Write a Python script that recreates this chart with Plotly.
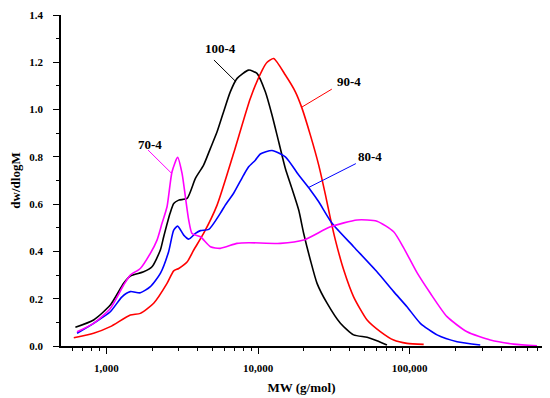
import plotly.graph_objects as go

# ---- data (MW in g/mol, dw/dlogM) ----
mw_100 = [625, 824, 1062, 1300, 1439, 1762, 2000, 2270, 2388, 2630, 2780, 2999, 3404, 3864,
          4375, 4853, 5370, 5929, 6561, 7278, 8670, 9840, 11170, 12360, 13680, 15140, 16750,
          18540, 20000, 22130, 24490, 28510, 34910, 42660, 52360, 60810, 70790]
dw_100 = [0.079, 0.110, 0.173, 0.265, 0.296, 0.314, 0.335, 0.406, 0.462, 0.561, 0.603, 0.617,
          0.624, 0.709, 0.765, 0.836, 0.906, 0.991, 1.075, 1.132, 1.167, 1.153, 1.075, 0.977,
          0.864, 0.751, 0.665, 0.575, 0.476, 0.364, 0.265, 0.181, 0.096, 0.047, 0.037, 0.022,
          0.004]

mw_90 = [610, 824, 1062, 1439, 1675, 2051, 2512, 2780, 2999, 3404, 3767, 4375, 5370, 6902,
         8892, 10620, 11480, 12680, 15140, 17620, 19500, 22130, 25120, 27800, 29990, 32360,
         36730, 42660, 52360, 63970, 78340, 95940, 123600]
dw_90 = [0.035, 0.054, 0.082, 0.131, 0.138, 0.181, 0.265, 0.318, 0.328, 0.355, 0.406, 0.476,
         0.596, 0.815, 1.047, 1.165, 1.200, 1.216, 1.146, 1.075, 1.005, 0.892, 0.765, 0.640,
         0.540, 0.448, 0.321, 0.208, 0.110, 0.061, 0.025, 0.011, 0.007]

mw_80 = [641, 824, 1062, 1268, 1439, 1675, 1950, 2270, 2576, 2780, 2951, 3236, 3491, 3864,
         4169, 4732, 5636, 6081, 6902, 8035, 8670, 9594, 10350, 12360, 15140, 18540, 22130,
         25120, 30760, 42660, 60810, 78340, 95940, 117500, 151400, 205100, 291700]
dw_80 = [0.054, 0.096, 0.145, 0.208, 0.230, 0.225, 0.251, 0.307, 0.400, 0.490, 0.507, 0.469,
         0.452, 0.476, 0.488, 0.493, 0.561, 0.596, 0.646, 0.723, 0.758, 0.786, 0.812, 0.827,
         0.800, 0.723, 0.660, 0.610, 0.519, 0.420, 0.314, 0.230, 0.166, 0.096, 0.047, 0.018,
         0.004]

mw_70 = [641, 824, 1062, 1300, 1439, 1675, 1950, 2158, 2328, 2512, 2710, 2951, 3155, 3319,
         3491, 3673, 4169, 4853, 5636, 7261, 8670, 14030, 20000, 29990, 44980, 60810, 78340,
         91200, 111700, 136800, 176200, 238800, 339600, 484200, 690200]
dw_70 = [0.060, 0.096, 0.159, 0.258, 0.300, 0.328, 0.392, 0.448, 0.519, 0.589, 0.737, 0.798,
         0.730, 0.631, 0.533, 0.476, 0.462, 0.420, 0.413, 0.434, 0.437, 0.434, 0.448, 0.504,
         0.533, 0.528, 0.483, 0.415, 0.310, 0.223, 0.124, 0.060, 0.025, 0.008, 0.001]

series = [
    ("100-4", mw_100, dw_100, "#000000"),
    ("90-4", mw_90, dw_90, "#ff0000"),
    ("80-4", mw_80, dw_80, "#0000ff"),
    ("70-4", mw_70, dw_70, "#ff00ff"),
]

x_major = [1000, 10000, 100000]
x_major_text = ["1,000", "10,000", "100,000"]
x_minor = [600, 700, 800, 900] + [m * 1000 for m in range(2, 10)] + \
          [m * 10000 for m in range(2, 10)] + [m * 100000 for m in range(2, 8)]
y_major = [0.0, 0.2, 0.4, 0.6, 0.8, 1.0, 1.2, 1.4]

FONT = "Liberation Serif, Times New Roman, serif"

fig = go.Figure()
for name, xs, ys, col in series:
    fig.add_trace(go.Scatter(x=xs, y=ys, mode="lines", name=name,
                             line=dict(color=col, width=1.6, shape="spline", smoothing=0.6),
                             showlegend=False))

# labels with leader lines (paper coordinates)
labels = [
    ("100-4", 0.331, 0.899, (0.318, 0.864, 0.364, 0.798), "#000000"),
    ("90-4", 0.599, 0.798, (0.563, 0.776, 0.501, 0.722), "#ff0000"),
    ("80-4", 0.642, 0.572, (0.613, 0.551, 0.515, 0.479), "#0000ff"),
    ("70-4", 0.185, 0.610, (0.181, 0.592, 0.229, 0.523), "#ff00ff"),
]
for txt, tx, ty, (x0, y0, x1, y1), col in labels:
    fig.add_annotation(x=tx, y=ty, xref="paper", yref="paper", text=txt, showarrow=False,
                       xanchor="center", yanchor="middle",
                       font=dict(family=FONT, size=13, color="#000000", weight="bold"))
    fig.add_shape(type="line", xref="paper", yref="paper", x0=x0, y0=y0, x1=x1, y1=y1,
                  line=dict(color=col, width=1))

# the page body adds an 8px offset, so the figure is sized/marginated to compensate
fig.update_layout(
    width=542, height=390,
    margin=dict(l=53, r=8, t=7, b=52),
    paper_bgcolor="white", plot_bgcolor="white",
    font=dict(family=FONT, size=11, color="#000000", weight="bold"),
    xaxis=dict(type="log", range=[2.701, 5.872], showgrid=False, zeroline=False,
               automargin=False,
               showline=True, linecolor="#000000", linewidth=1.5,
               tickmode="array", tickvals=x_major, ticktext=x_major_text,
               ticks="outside", ticklen=6, tickwidth=1.2, tickcolor="#000000",
               ticklabelstandoff=5,
               minor=dict(tickmode="array", tickvals=x_minor, ticks="outside",
                          ticklen=3, tickwidth=1, tickcolor="#000000"),
               title=dict(text="MW (g/mol)", font=dict(family=FONT, size=13, weight="bold"),
                          standoff=10)),
    yaxis=dict(range=[0, 1.4], showgrid=False, zeroline=False,
               automargin=False,
               showline=True, linecolor="#000000", linewidth=1.5,
               tickmode="array", tickvals=y_major, tickformat=".1f",
               ticks="outside", ticklen=6, tickwidth=1.2, tickcolor="#000000",
               ticklabelstandoff=8,
               minor=dict(dtick=0.1, ticks="outside", ticklen=3, tickwidth=1,
                          tickcolor="#000000"),
               title=dict(text="dw/dlogM", font=dict(family=FONT, size=13, weight="bold"),
                          standoff=6)),
)

fig.write_html("out.html")
